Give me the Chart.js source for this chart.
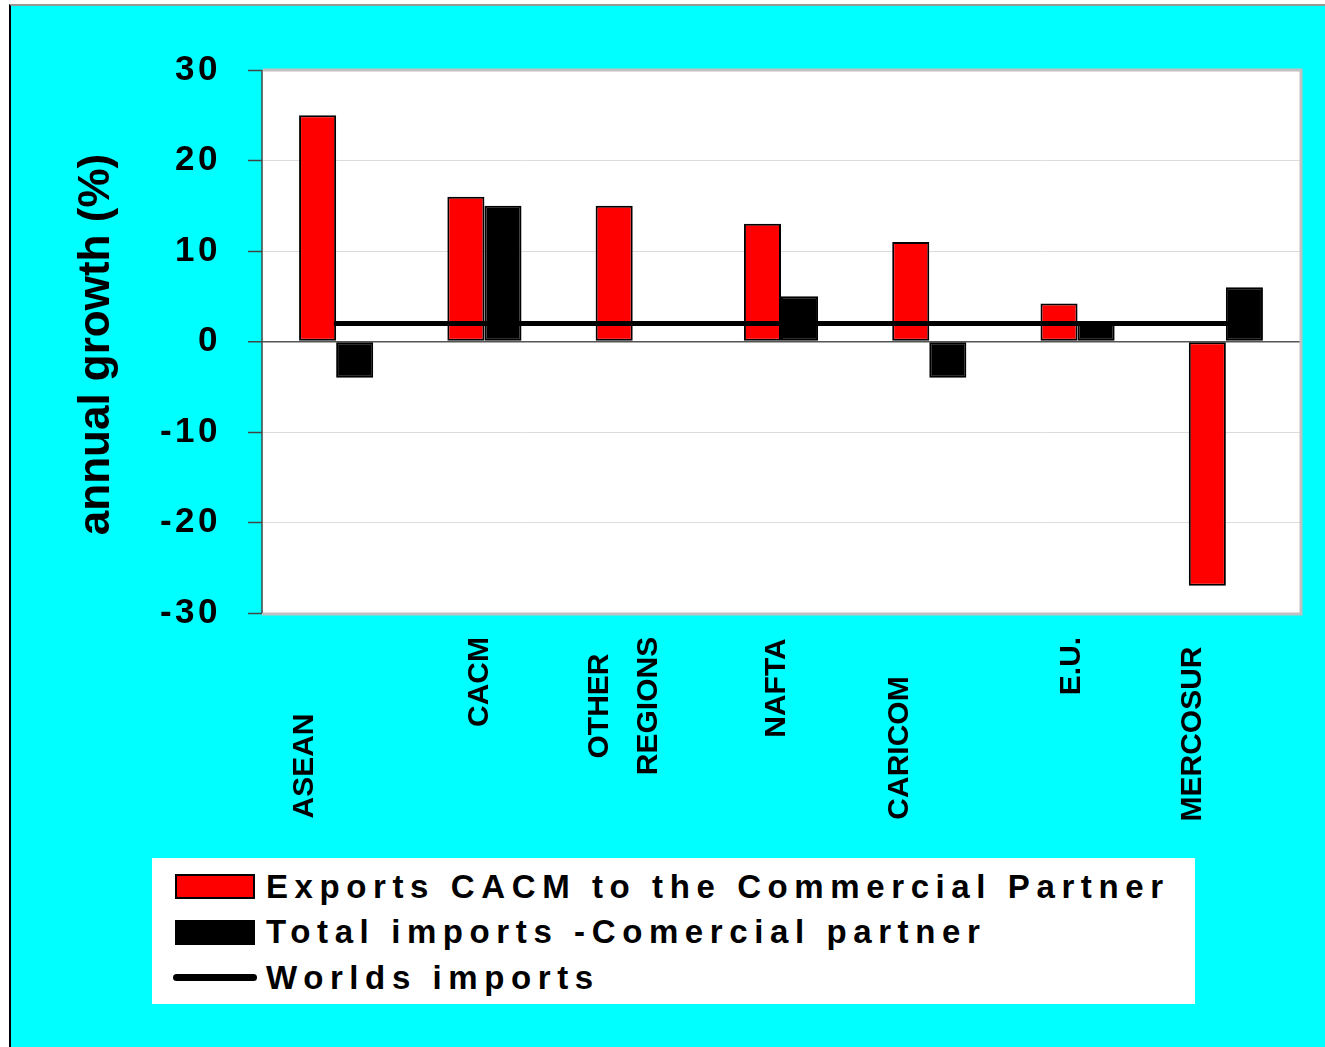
<!DOCTYPE html>
<html>
<head>
<meta charset="utf-8">
<script src="https://cdn.jsdelivr.net/npm/chart.js@4.4.1/dist/chart.umd.min.js"></script>
<style>
  html, body { margin: 0; padding: 0; background: #fff; overflow: hidden; }
  body { width: 1325px; height: 1047px; position: relative; font-family: "Liberation Sans", Arial, sans-serif; }
  .frame {
    position: absolute; left: 9px; top: 4px; right: -10px; bottom: -10px;
    background: #00ffff; border-left: 2px solid #000; border-top: 2px solid #999;
  }
  #chart { position: absolute; left: 0; top: 0; }
  .legend {
    position: absolute; left: 152px; top: 858px; width: 1043px; height: 146px;
    background: #fff; box-sizing: border-box; padding: 6px 0 0 23px;
  }
  .legend .row {
    display: flex; align-items: center; height: 45.5px;
    font-weight: bold; font-size: 33px; letter-spacing: 6.6px; word-spacing: 0; color: #000;
  }
  .legend .sw { width: 80px; height: 25px; box-sizing: border-box; border: 2px solid #000; margin-right: 11px; flex: none; }
  .legend .ln { width: 84px; height: 7px; border-radius: 4px; background: #000; margin: 0 9px 0 -2px; flex: none; }
</style>
</head>
<body>
<div class="frame"></div>
<canvas id="chart" width="1325" height="1047"></canvas>
<div class="legend">
  <div class="row"><span class="sw" style="background:#ff0000"></span>Exports CACM to the Commercial Partner</div>
  <div class="row"><span class="sw" style="background:#000"></span>Total imports -Comercial partner</div>
  <div class="row"><span class="ln"></span>Worlds imports</div>
</div>
<script>
// values (annual growth, %)
const categories = ['ASEAN', 'CACM', ['OTHER', 'REGIONS'], 'NAFTA', 'CARICOM', 'E.U.', 'MERCOSUR'];
const exportsCacm = [25, 16, 15, 13, 11, 4.2, -27];
const totalImports = [-4, 15, null, 5, -4, 2, 6];
const worldImports = [2, 2, 2, 2, 2, 2, 2];
const yTicks = [-30, -20, -10, 0, 10, 20, 30];

// where the rotated category names sit (offset from category centre / below the plot)
const labelShift = [-31, -5, -33, -4, -30, -6, -33];
const labelMid = [153, 69, 93, 75, 135, 53, 121];

const FONT = '"Liberation Sans", Arial, sans-serif';

const frame = {
  id: 'frame',
  beforeDraw(chart) {
    const { ctx, chartArea: a } = chart;
    ctx.save();
    ctx.fillStyle = '#fff';
    ctx.fillRect(a.left, a.top, a.right - a.left, a.bottom - a.top);
    ctx.restore();
    ctx.letterSpacing = '3.5px';   // tick numbers are spaced out
  },
  beforeDatasetsDraw(chart) {
    const { ctx, chartArea: a } = chart;
    ctx.save();
    ctx.strokeStyle = '#c0c0c0';
    ctx.lineWidth = 3;
    ctx.beginPath();
    ctx.moveTo(a.left + 1, a.top);
    ctx.lineTo(a.right + 1, a.top);
    ctx.lineTo(a.right + 1, a.bottom + 1);
    ctx.lineTo(a.left, a.bottom + 1);
    ctx.stroke();
    ctx.strokeStyle = '#444';
    ctx.lineWidth = 1.5;
    ctx.beginPath();
    ctx.moveTo(a.left, a.top);
    ctx.lineTo(a.left, a.bottom);
    ctx.stroke();
    ctx.restore();
  },
  afterDraw(chart) {
    const { ctx, chartArea: a } = chart;
    const xs = chart.scales.x;
    ctx.save();
    ctx.letterSpacing = '0px';
    ctx.fillStyle = '#000';
    ctx.textAlign = 'center';
    ctx.textBaseline = 'middle';

    // category names, rotated
    ctx.font = 'bold 30px ' + FONT;
    categories.forEach((lab, i) => {
      const lines = Array.isArray(lab) ? lab : [lab];
      lines.forEach((t, j) => {
        ctx.save();
        ctx.translate(xs.getPixelForValue(i) + labelShift[i] + j * 49, a.bottom + labelMid[i]);
        ctx.rotate(-Math.PI / 2);
        ctx.fillText(t, 0, 0);
        ctx.restore();
      });
    });

    // y axis title
    ctx.font = 'bold 44px ' + FONT;
    ctx.translate(97, (a.top + a.bottom) / 2 + 3);
    ctx.rotate(-Math.PI / 2);
    ctx.fillText('annual growth (%)', 0, 0);
    ctx.restore();
  }
};

new Chart(document.getElementById('chart'), {
  data: {
    labels: categories,
    datasets: [
      {
        type: 'line',
        label: 'Worlds imports',
        data: worldImports,
        borderColor: '#000',
        borderWidth: 5,
        borderCapStyle: 'round',
        pointRadius: 0,
        fill: false,
        order: 0
      },
      {
        type: 'bar',
        label: 'Exports CACM to the Commercial Partner',
        data: exportsCacm,
        backgroundColor: '#ff0000',
        borderColor: '#000',
        borderWidth: 2,
        borderSkipped: false,
        categoryPercentage: 0.5,
        barPercentage: 1.0,
        order: 1
      },
      {
        type: 'bar',
        label: 'Total imports -Comercial partner',
        data: totalImports,
        backgroundColor: '#000',
        borderColor: '#000',
        borderWidth: 2,
        borderSkipped: false,
        categoryPercentage: 0.5,
        barPercentage: 1.0,
        order: 1
      }
    ]
  },
  options: {
    responsive: false,
    animation: false,
    layout: { padding: { top: 70, right: 25, bottom: 0, left: 0 } },
    plugins: {
      legend: { display: false },
      tooltip: { enabled: false }
    },
    scales: {
      x: {
        ticks: { display: false },
        grid: { display: false },
        border: { display: false },
        afterFit(scale) { scale.height = 434; }
      },
      y: {
        min: yTicks[0],
        max: yTicks[yTicks.length - 1],
        afterBuildTicks(scale) { scale.ticks = yTicks.map(v => ({ value: v })); },
        ticks: {
          color: '#000',
          padding: 27,
          font: { family: FONT, size: 35, weight: 'bold' }
        },
        grid: {
          color: ctx => {
            const v = ctx.tick && ctx.tick.value;
            if (v === 0) return '#555';
            if (v === yTicks[0] || v === yTicks[yTicks.length - 1]) return 'rgba(0,0,0,0)';
            return '#dcdcdc';
          },
          lineWidth: ctx => (ctx.tick && ctx.tick.value === 0 ? 1.5 : 1),
          tickColor: '#444',
          tickLength: 14,
          tickWidth: 1.5
        },
        border: { display: false },
        afterFit(scale) { scale.width = 262; }
      }
    }
  },
  plugins: [frame]
});
</script>
</body>
</html>
